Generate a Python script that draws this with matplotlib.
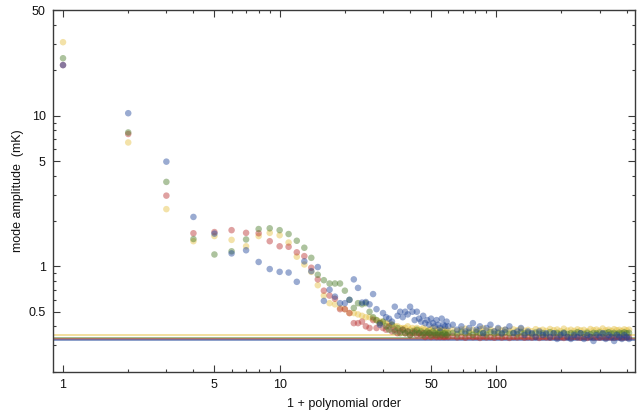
import matplotlib

matplotlib.use("Agg")

import matplotlib.pyplot as plt  # noqa: E402
import numpy as np  # noqa: E402
from matplotlib.ticker import FixedLocator, NullFormatter  # noqa: E402

# x = 1 + polynomial order; every order up to 60, then a thinned tail
X_HEAD = list(range(1, 61))
X_TAIL = [63, 66, 69, 72, 75, 78, 81, 84, 87, 90,
          94, 98, 102, 106, 110,
          115, 120, 125, 130, 135, 140,
          146, 152, 158, 164, 170,
          177, 184, 191, 198,
          205, 213, 221, 229, 237, 245,
          254, 263, 272, 281, 290,
          300, 310, 320, 330, 340, 350, 360, 370, 380, 390, 400, 410]

YELLOW_HEAD = [30.8, 6.65, 2.40, 1.47, 1.59, 1.50, 1.36, 1.59, 1.67, 1.61,
               1.44, 1.16, 1.03, 0.92, 0.75, 0.64, 0.57, 0.56, 0.53, 0.52,
               0.49, 0.49, 0.48, 0.47, 0.46, 0.46, 0.45, 0.44, 0.43, 0.43,
               0.42, 0.42, 0.41, 0.40, 0.40, 0.39, 0.39, 0.39, 0.40, 0.38,
               0.39, 0.38, 0.39, 0.38, 0.38, 0.39, 0.38, 0.37, 0.38, 0.38,
               0.39, 0.37, 0.38, 0.38, 0.37, 0.38, 0.38, 0.37, 0.38, 0.37]
YELLOW_TAIL = [0.38, 0.372, 0.381, 0.386, 0.374, 0.379, 0.371, 0.383, 0.388, 0.375,
               0.381, 0.372, 0.384, 0.376, 0.380,
               0.373, 0.382, 0.377, 0.385, 0.374, 0.379,
               0.371, 0.383, 0.376, 0.380, 0.373,
               0.384, 0.377, 0.381, 0.372,
               0.386, 0.375, 0.380, 0.373, 0.382, 0.376,
               0.379, 0.371, 0.384, 0.377, 0.381,
               0.374, 0.387, 0.376, 0.380, 0.373, 0.383, 0.377, 0.379, 0.372, 0.382, 0.376, 0.380]

RED_HEAD = [21.7, 7.57, 2.95, 1.66, 1.69, 1.74, 1.67, 1.66, 1.47, 1.36,
            1.35, 1.24, 1.17, 0.98, 0.82, 0.69, 0.64, 0.61, 0.52, 0.52,
            0.49, 0.42, 0.42, 0.43, 0.40, 0.39, 0.44, 0.39, 0.42, 0.39,
            0.38, 0.40, 0.37, 0.38, 0.36, 0.37, 0.38, 0.36, 0.37, 0.35,
            0.36, 0.37, 0.35, 0.36, 0.35, 0.36, 0.34, 0.35, 0.36, 0.34,
            0.35, 0.35, 0.34, 0.35, 0.34, 0.35, 0.34, 0.34, 0.35, 0.34]
RED_TAIL = [0.345, 0.338, 0.342, 0.336, 0.344, 0.339, 0.341, 0.335, 0.343, 0.338,
            0.340, 0.336, 0.342, 0.337, 0.341,
            0.335, 0.340, 0.338, 0.343, 0.336, 0.339,
            0.337, 0.341, 0.335, 0.340, 0.338,
            0.336, 0.342, 0.337, 0.339,
            0.335, 0.340, 0.336, 0.341, 0.338, 0.336,
            0.339, 0.335, 0.340, 0.337, 0.338,
            0.336, 0.340, 0.335, 0.339, 0.337, 0.336, 0.340, 0.338, 0.335, 0.339, 0.337, 0.338]

GREEN_HEAD = [24.1, 7.75, 3.64, 1.52, 1.20, 1.26, 1.51, 1.77, 1.79, 1.74,
              1.64, 1.48, 1.33, 1.14, 0.88, 0.81, 0.77, 0.77, 0.77, 0.69,
              0.60, 0.53, 0.57, 0.56, 0.57, 0.50, 0.46, 0.44, 0.42, 0.43,
              0.40, 0.38, 0.41, 0.37, 0.39, 0.36, 0.38, 0.36, 0.37, 0.35,
              0.37, 0.36, 0.38, 0.36, 0.37, 0.35, 0.36, 0.37, 0.36, 0.35,
              0.37, 0.36, 0.35, 0.36, 0.37, 0.35, 0.36, 0.36, 0.35, 0.36]
GREEN_TAIL = [0.362, 0.355, 0.368, 0.358, 0.364, 0.352, 0.366, 0.359, 0.361, 0.354,
              0.367, 0.357, 0.363, 0.356, 0.365,
              0.358, 0.362, 0.355, 0.367, 0.359, 0.363,
              0.356, 0.364, 0.358, 0.361, 0.354,
              0.366, 0.359, 0.362, 0.357,
              0.364, 0.356, 0.361, 0.358, 0.366, 0.360,
              0.357, 0.363, 0.355, 0.362, 0.359,
              0.364, 0.357, 0.361, 0.366, 0.358, 0.362, 0.356, 0.363, 0.359, 0.365, 0.360, 0.362]

BLUE_HEAD = [21.7, 10.4, 4.96, 2.13, 1.65, 1.22, 1.28, 1.07, 0.96, 0.92,
             0.91, 0.79, 1.08, 0.93, 0.99, 0.59, 0.70, 0.63, 0.57, 0.57,
             0.60, 0.82, 0.72, 0.575, 0.58, 0.56, 0.655, 0.52, 0.41, 0.49,
             0.46, 0.45, 0.43, 0.54, 0.47, 0.50, 0.46, 0.50, 0.48, 0.54,
             0.50, 0.44, 0.50, 0.45, 0.43, 0.47, 0.42, 0.44, 0.41, 0.45,
             0.42, 0.40, 0.44, 0.41, 0.39, 0.45, 0.41, 0.40, 0.43, 0.40]
BLUE_TAIL = [0.41, 0.38, 0.40, 0.37, 0.39, 0.42, 0.38, 0.40, 0.36, 0.39,
             0.41, 0.37, 0.39, 0.36, 0.38,
             0.40, 0.36, 0.37, 0.39, 0.35, 0.37,
             0.36, 0.34, 0.37, 0.35, 0.36,
             0.34, 0.36, 0.33, 0.35,
             0.36, 0.34, 0.33, 0.35, 0.34, 0.36,
             0.33, 0.35, 0.34, 0.32, 0.35,
             0.34, 0.36, 0.33, 0.35, 0.34, 0.32, 0.35, 0.34, 0.33, 0.35, 0.34, 0.33]

# noise floor levels drawn as horizontal lines
FLOOR = {"yellow": 0.349, "green": 0.337, "red": 0.330, "blue": 0.325}

COLORS = {"yellow": "#e6c040", "red": "#b83030", "green": "#4a7a28", "blue": "#1f4599"}
INK = "#111111"
FRAME = "#3a3a3a"

plt.rcParams["font.family"] = ["Liberation Sans", "DejaVu Sans"]

fig = plt.figure(figsize=(6.37, 4.18), dpi=100)
ax = fig.add_axes([0.0827, 0.1108, 0.9142, 0.8641])

for name in ("yellow", "green", "red", "blue"):
    ax.axhline(FLOOR[name], color=COLORS[name], lw=1.2, alpha=0.6, zorder=1)

series = {
    "yellow": YELLOW_HEAD + YELLOW_TAIL,
    "red": RED_HEAD + RED_TAIL,
    "green": GREEN_HEAD + GREEN_TAIL,
    "blue": BLUE_HEAD + BLUE_TAIL,
}
xs = np.array(X_HEAD + X_TAIL)
for name, ys in series.items():
    ax.scatter(xs, ys, s=22, color=COLORS[name], alpha=0.45,
               edgecolors="none", zorder=2)

ax.set_xscale("log")
ax.set_yscale("log")
ax.set_xlim(0.896, 437)
ax.set_ylim(0.2, 50)

x_major = [1, 5, 10, 50, 100]
x_minor = [2, 3, 4, 6, 7, 8, 9, 20, 30, 40, 60, 70, 80, 90, 200, 300, 400]
y_major = [0.5, 1, 5, 10, 50]
y_minor = [0.2, 0.3, 0.4, 0.6, 0.7, 0.8, 0.9, 2, 3, 4, 6, 7, 8, 9, 20, 30, 40]
ax.xaxis.set_major_locator(FixedLocator(x_major))
ax.xaxis.set_minor_locator(FixedLocator(x_minor))
ax.yaxis.set_major_locator(FixedLocator(y_major))
ax.yaxis.set_minor_locator(FixedLocator(y_minor))
ax.set_xticklabels(["1", "5", "10", "50", "100"])
ax.set_yticklabels(["0.5", "1", "5", "10", "50"])
ax.xaxis.set_minor_formatter(NullFormatter())
ax.yaxis.set_minor_formatter(NullFormatter())

ax.tick_params(which="both", direction="in", top=True, right=True,
               color=FRAME, width=0.8, labelsize=9, labelcolor=INK, pad=5)
ax.tick_params(which="major", length=5)
ax.tick_params(which="minor", length=2.5)
for spine in ax.spines.values():
    spine.set_color(FRAME)
    spine.set_linewidth(1.0)

ax.set_xlabel("1 + polynomial order", fontsize=9, color=INK, labelpad=5)
ax.set_ylabel("mode amplitude  (mK)", fontsize=9, color=INK, labelpad=3)

fig.savefig("out.png", dpi=100, facecolor="white")
